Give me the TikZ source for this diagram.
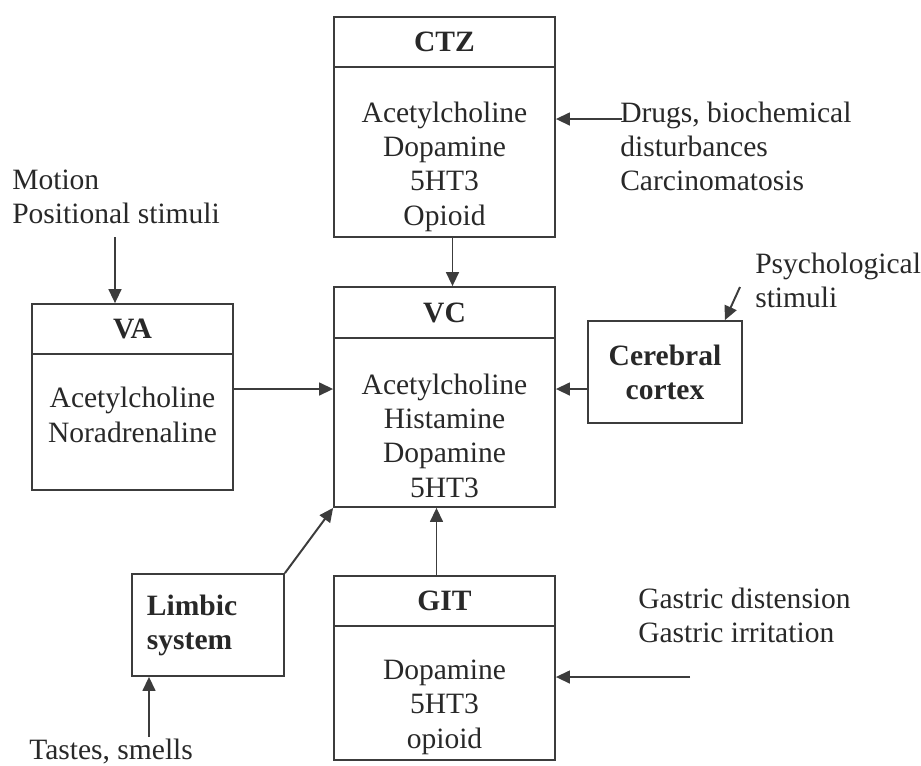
\documentclass[tikz,border=0pt]{standalone}
\usepackage{fontspec}
\setmainfont{Liberation Serif}
\usepackage{tikz}
\usetikzlibrary{arrows.meta,positioning}
\usepackage{xcolor}
\definecolor{vmline}{RGB}{60,60,60}
\definecolor{vmtext}{RGB}{40,40,40}
\newcommand{\vmfont}{\fontsize{21}{24.2}\selectfont}
\tikzstyle{arrow} = [line width=1.4pt,color=vmline,-{Triangle[length=0.35cm,width=0.32cm]}]
\tikzstyle{headbox} = [rectangle, draw=vmline, line width=1.2pt, minimum height=1.25cm, text centered, font=\vmfont\bfseries]
\tikzstyle{bodybox} = [rectangle, draw=vmline, line width=1.2pt, align=center, inner ysep=0pt]
\tikzstyle{sidebox} = [rectangle, draw=vmline, line width=1.2pt, minimum height=2.55cm, font=\vmfont\bfseries]
\tikzstyle{stimulus} = [inner sep=0pt, align=left, anchor=west]

\begin{document}
\begin{tikzpicture}[x=0.025cm, y=-0.025cm, font=\vmfont, text=vmtext]
\useasboundingbox (0,0) rectangle (921,765);
% Centres of the emetic pathway
\node[headbox, minimum width=5.525cm] (ctzh) at (444.5,42) {CTZ};
\node[bodybox, minimum width=5.525cm, text height=3.95cm, text depth=0.3cm] (ctzb) at (444.5,152) {Acetylcholine\\Dopamine\\5HT3\\Opioid};
\node[headbox, minimum width=5.525cm, minimum height=1.275cm] (vch) at (444.5,312.5) {VC};
\node[bodybox, minimum width=5.525cm, text height=3.975cm, text depth=0.25cm] (vcb) at (444.5,422.5) {Acetylcholine\\Histamine\\Dopamine\\5HT3};
\node[headbox, minimum width=5.525cm] (gith) at (444.5,601) {GIT};
\node[bodybox, minimum width=5.525cm, text height=3.05cm, text depth=0.3cm] (gitb) at (444.5,693) {Dopamine\\5HT3\\opioid};
\node[headbox, minimum width=5.025cm] (vah) at (132.5,329) {VA};
\node[bodybox, minimum width=5.025cm, text height=2.2cm, text depth=1.2cm] (vab) at (132.5,422) {Acetylcholine\\Noradrenaline};
\node[sidebox, minimum width=3.85cm, align=center] (cc) at (665,372) {Cerebral\\cortex};
\node[sidebox, text width=3.05cm, inner xsep=0.375cm, align=left] (limbic) at (208,625) {Limbic\\system};
% Stimuli
\node[stimulus] (drugs) at (620,146) {Drugs, biochemical\\disturbances\\Carcinomatosis};
\node[stimulus] (motion) at (12,196.5) {Motion\\Positional stimuli};
\node[stimulus] (psych) at (755,280) {Psychological\\stimuli};
\node[stimulus] (gastric) at (638,615.5) {Gastric distension\\Gastric irritation};
\node[stimulus] (tastes) at (29,752) {Tastes, smells};
\coordinate (drugsin) at (622,119);
\coordinate (motionin) at (115,237);
\coordinate (psychin) at (740,287);
\coordinate (gastricin) at (690,677);
\coordinate (tastesin) at (149,737);
\coordinate (lvl) at (0,389);
% Connectors
\draw[arrow] (drugsin) -- (ctzb.east |- drugsin);
\draw[arrow] (motionin) -- (vah.north -| motionin);
\draw[arrow] ([xshift=0.2cm]ctzb.south) -- ([xshift=0.2cm]vch.north);
\draw[arrow] (vab.east |- lvl) -- (vcb.west |- lvl);
\draw[arrow] (cc.west |- lvl) -- (vcb.east |- lvl);
\draw[arrow] (psychin) -- ([xshift=-0.45cm]cc.north east);
\draw[arrow] (limbic.north east) -- (vcb.south west);
\draw[arrow] ([xshift=-0.2cm]gith.north) -- ([xshift=-0.2cm]vcb.south);
\draw[arrow] (gastricin) -- (gitb.east |- gastricin);
\draw[arrow] (tastesin) -- (limbic.south -| tastesin);
\end{tikzpicture}
\end{document}
